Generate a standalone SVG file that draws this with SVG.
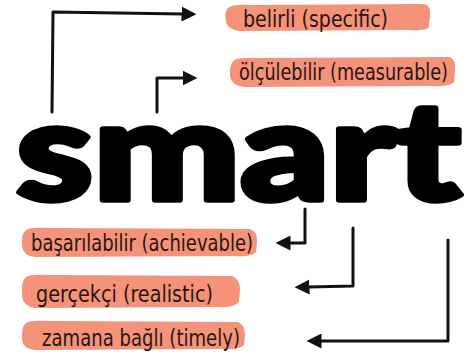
<svg xmlns="http://www.w3.org/2000/svg" width="467" height="362" viewBox="0 0 467 362">
<style>
.bg{fill:#F4927A}
.lbl{font-family:"Liberation Sans Narrow","DejaVu Sans Condensed","Liberation Sans",sans-serif;font-size:23px;fill:#2B1510}
.big{font-family:Lato,Inter,"Liberation Sans",sans-serif;font-weight:900;font-size:138px;fill:#000;stroke:#000;stroke-width:5.5;stroke-linejoin:round}
.con{fill:none;stroke:#111;stroke-width:3;stroke-linecap:round;stroke-linejoin:round}
</style>
<defs>
<marker id="ah" viewBox="0 0 10 10" refX="1" refY="5" markerUnits="userSpaceOnUse" markerWidth="15" markerHeight="15" orient="auto">
<path d="M0,0 L10,5 L0,10 Z" fill="#111"/>
</marker>
</defs>
<rect width="467" height="362" fill="#fff"/>
<g id="smart">
<text class="big" x="16" y="200" textLength="445" lengthAdjust="spacingAndGlyphs">smart</text>
</g>
<g id="n1">
<path class="bg" d="M228,8 Q232,4 250,5 L425,4 Q431,6 430,15 L429,27 Q426,31 410,30 L240,31 Q228,30 226,22 Q224,12 228,8 Z"/>
<text class="lbl" x="243" y="27" textLength="145" lengthAdjust="spacingAndGlyphs">belirli (specific)</text>
</g>
<g id="n2">
<path class="bg" d="M234,60 Q240,57 260,58 L450,57 Q456,60 455,70 L454,82 Q450,87 430,86 L245,87 Q232,86 230,77 Q229,65 234,60 Z"/>
<text class="lbl" x="239" y="80" textLength="209" lengthAdjust="spacingAndGlyphs">ölçülebilir (measurable)</text>
</g>
<g id="n3">
<path class="bg" d="M26,230 Q30,227 50,228 L250,229 Q258,232 257,242 L256,252 Q252,257 235,256 L35,257 Q23,256 22,246 Q21,234 26,230 Z"/>
<text class="lbl" x="31" y="251" textLength="222" lengthAdjust="spacingAndGlyphs">başarılabilir (achievable)</text>
</g>
<g id="n4">
<path class="bg" d="M26,277 Q30,274 50,275 L232,276 Q240,279 240,290 L239,302 Q235,308 218,307 L35,308 Q23,306 22,296 Q21,281 26,277 Z"/>
<text class="lbl" x="36" y="302" textLength="177" lengthAdjust="spacingAndGlyphs">gerçekçi (realistic)</text>
</g>
<g id="n5">
<path class="bg" d="M26,323 Q30,320 50,321 L238,322 Q245,325 245,335 L244,345 Q240,350 222,349 L35,350 Q23,349 22,340 Q21,327 26,323 Z"/>
<text class="lbl" x="42" y="346" textLength="198" lengthAdjust="spacingAndGlyphs">zamana bağlı (timely)</text>
</g>
<g id="connectors">
<path class="con" marker-end="url(#ah)" d="M52,112 L53,12 L183,14"/>
<path class="con" marker-end="url(#ah)" d="M157,112 L157,78 L184,78"/>
<path class="con" marker-end="url(#ah)" d="M305,209 L305,243 L289,243"/>
<path class="con" marker-end="url(#ah)" d="M353,228 L353,286 L308,287"/>
<path class="con" marker-end="url(#ah)" d="M448,240 L448,341 L320,341"/>
</g>
</svg>
